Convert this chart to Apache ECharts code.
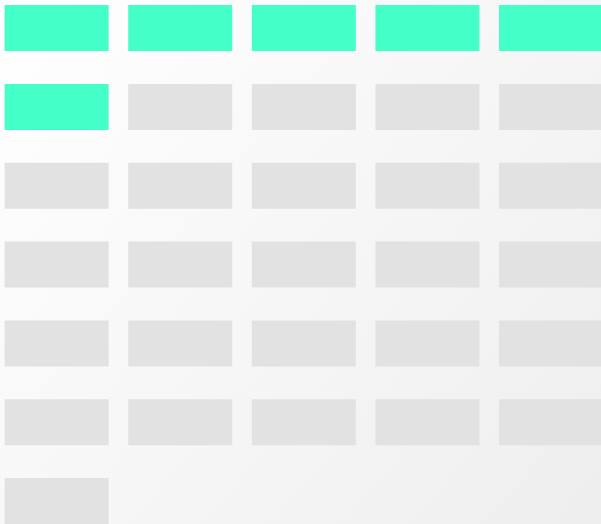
<!DOCTYPE html>
<html>
<head>
<meta charset="utf-8">
<script src="https://cdn.jsdelivr.net/npm/echarts@6/dist/echarts.min.js"></script>
<style>
  html, body { margin: 0; padding: 0; }
  #main { width: 601px; height: 524px; }
</style>
</head>
<body>
<div id="main"></div>
<script>
// columnas y filas de la cuadricula
var columnas = [0, 1, 2, 3, 4];
var filas = [0, 1, 2, 3, 4, 5, 6];
// estado de cada celda (1 = activa, 0 = inactiva), en orden de lectura
var celdas = [
  1, 1, 1, 1, 1,
  1, 0, 0, 0, 0,
  0, 0, 0, 0, 0,
  0, 0, 0, 0, 0,
  0, 0, 0, 0, 0,
  0, 0, 0, 0, 0,
  0
];

var activas = [];
var inactivas = [];
for (var i = 0; i < celdas.length; i++) {
  var punto = [columnas[i % columnas.length], filas[Math.floor(i / columnas.length)]];
  if (celdas[i] === 1) {
    activas.push(punto);
  } else {
    inactivas.push(punto);
  }
}

var option = {
  backgroundColor: {
    type: "linear",
    x: 0, y: 0, x2: 1, y2: 1,
    colorStops: [
      { offset: 0, color: "#ffffff" },
      { offset: 1, color: "#eeeeee" }
    ]
  },
  animation: false,
  grid: { left: 0, right: 0, top: 0, bottom: 0, containLabel: false },
  xAxis: {
    type: "value",
    min: -0.458,
    max: 4.4045,
    show: false
  },
  yAxis: {
    type: "value",
    min: -0.3566,
    max: 6.2914,
    inverse: true,
    show: false
  },
  series: [
    {
      type: "scatter",
      symbol: "rect",
      symbolSize: [104, 46],
      itemStyle: { color: "#e2e2e2", opacity: 1 },
      data: inactivas
    },
    {
      type: "scatter",
      symbol: "rect",
      symbolSize: [104, 46],
      itemStyle: { color: "#44ffc8", opacity: 1 },
      data: activas
    }
  ]
};

var chartDom = document.getElementById("main");
var myChart = echarts.init(chartDom);
myChart.setOption(option);
</script>
</body>
</html>
